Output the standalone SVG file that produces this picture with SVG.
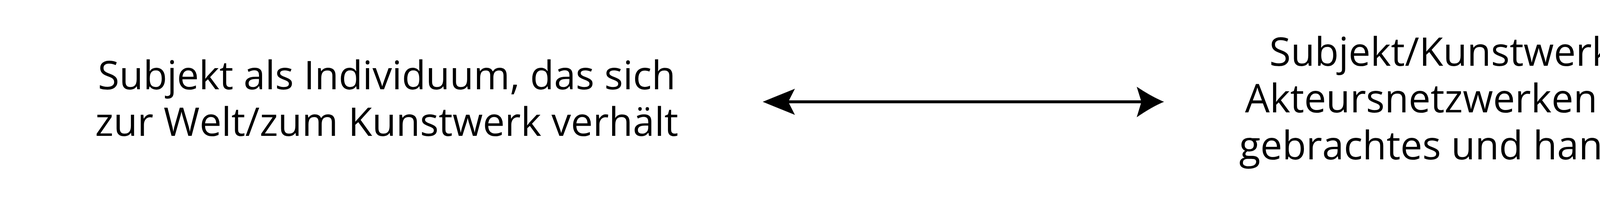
<svg xmlns="http://www.w3.org/2000/svg" width="4700" height="521" viewBox="0 0 4700 521">
  <style>
    .lbl { font-family: "Open Sans", "Noto Sans", "Liberation Sans", sans-serif; font-size: 100px; fill: #000; text-anchor: middle; }
    .conn { stroke: #000; stroke-width: 7.5; fill: none; }
  </style>
  <defs>
    <marker id="headStart" markerUnits="userSpaceOnUse" orient="auto" refX="0" refY="0" markerWidth="1" markerHeight="1" overflow="visible">
      <path d="M0 0 L17 -33.5 L-65.5 0 L17 33.5 Z" fill="#000"/>
    </marker>
    <marker id="headEnd" markerUnits="userSpaceOnUse" orient="auto" refX="0" refY="0" markerWidth="1" markerHeight="1" overflow="visible">
      <path d="M0 0 L-12 -38.5 Q28 -12 58 0 Q28 12 -12 39.5 Z" fill="#000"/>
    </marker>
  </defs>
  <rect width="4700" height="521" fill="#fff"/>
  <g id="node-left">
    <text class="lbl" x="990" y="228">Subjekt als Individuum, das sich</text>
    <text class="lbl" x="990" y="347">zur Welt/zum Kunstwerk verhält</text>
  </g>
  <g id="node-right">
    <text class="lbl" x="3822" y="168">Subjekt/Kunstwerk als in</text>
    <text class="lbl" x="3822" y="287">Akteursnetzwerken hervor-</text>
    <text class="lbl" x="3822" y="407">gebrachtes und handelndes</text>
  </g>
  <g id="connectors">
    <path class="conn" d="M2018 260 H2922" marker-start="url(#headStart)" marker-end="url(#headEnd)"/>
  </g>
</svg>
